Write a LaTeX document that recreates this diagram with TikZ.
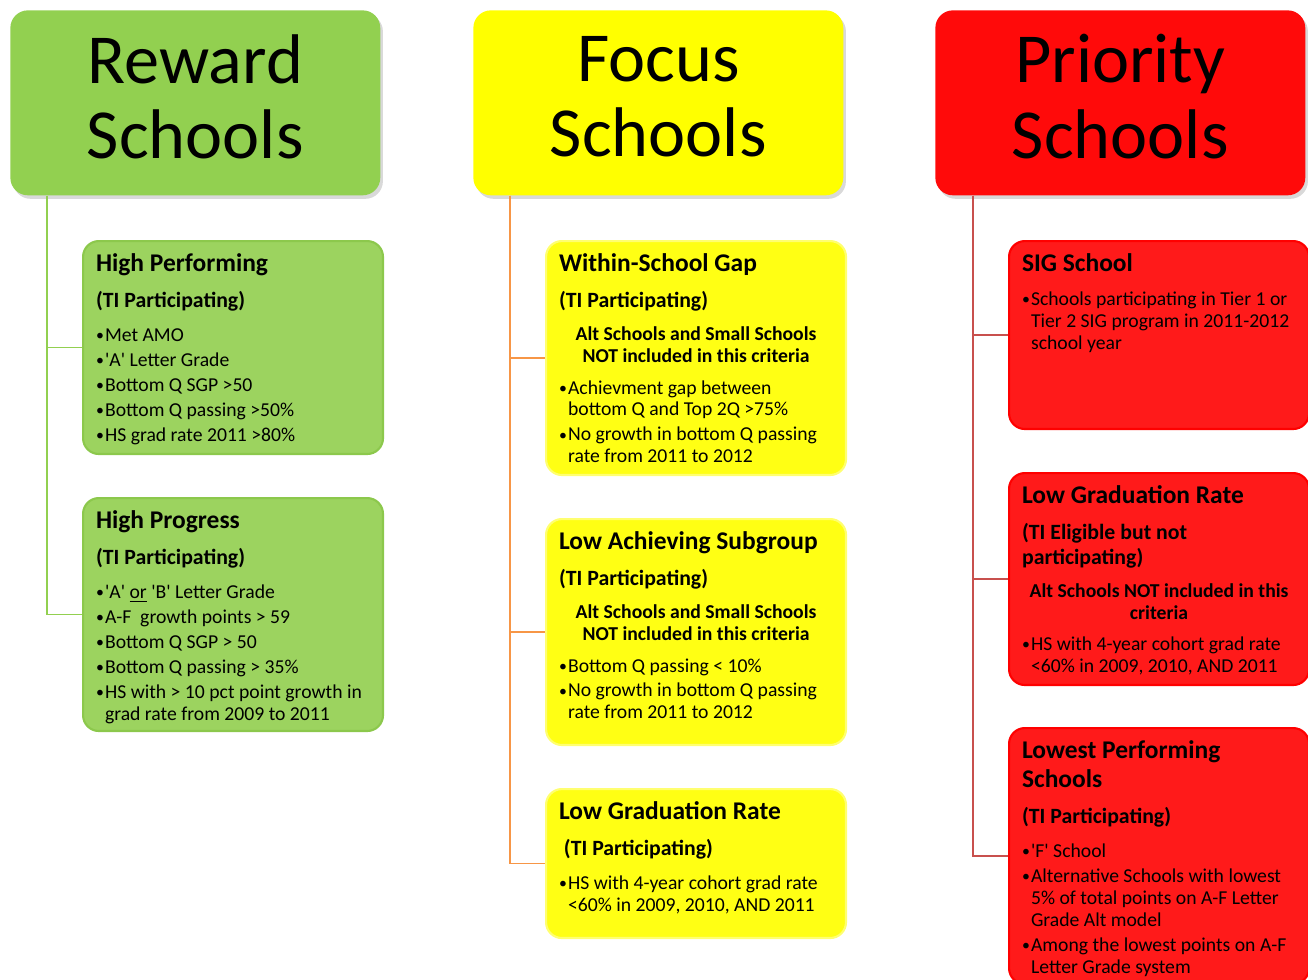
\documentclass[tikz,border=0pt]{standalone}
\usepackage{fontspec}
\setmainfont{Carlito}
\usetikzlibrary{calc,shadows}

\definecolor{rwfill}{HTML}{92D050}
\definecolor{rwsub}{HTML}{9CD35F}
\definecolor{rwedge}{HTML}{8CC84C}
\definecolor{fcfill}{HTML}{FFFF00}
\definecolor{fcsub}{HTML}{FFFF14}
\definecolor{fcedge}{HTML}{FFFF70}
\definecolor{prfill}{HTML}{FF0A0A}
\definecolor{prsub}{HTML}{FF1A1A}
\definecolor{predge}{HTML}{FF0000}
\definecolor{rwline}{HTML}{92D050}
\definecolor{fcline}{HTML}{F79646}
\definecolor{prline}{HTML}{C8504D}

\def\q{\textquotesingle}
\def\hd#1{{\fontsize{14.5}{16.5}\selectfont\bfseries #1\par}}
\def\ti#1{\vspace{6.5pt}{\fontsize{12.4}{14}\selectfont\bfseries #1\par}\vspace{4.8pt}}
\def\nt#1{\vspace{1.5pt}{\fontsize{11.2}{12.5}\selectfont\bfseries\centering #1\par}\vspace{3.5pt}}
\def\itm#1{\vspace{1.7pt}{\fontsize{11.2}{12.5}\selectfont\hangindent=0.18cm\hangafter=1\noindent
	\makebox[0.18cm][l]{\raisebox{0.4pt}{\fontsize{9}{9}\selectfont\textbullet}}#1\par}}
\def\crit#1#2{\parbox[c][#1][t]{5.48cm}{\raggedright #2}}

\begin{document}
\begin{tikzpicture}[x=0.02cm, y=-0.02cm,
		headbox/.style={anchor=north west, rounded corners=10pt, minimum width=7.4cm, minimum height=3.7cm,
			inner sep=0pt, drop shadow={opacity=0.3, shadow xshift=1.5pt, shadow yshift=-2pt}},
		headtext/.style={align=center, inner sep=0pt, font=\fontsize{40}{43}\selectfont},
		critbox/.style={anchor=north west, rounded corners=9pt, inner sep=0.26cm, line width=1.2pt},
		stem/.style={line width=0.9pt}]
			%%%%% START %%%%%
			
			\useasboundingbox (0,0) rectangle (1308,980);
			\clip (0,0) rectangle (1308,980);
			
			% column heads
			\node[headbox, fill=rwfill] (rw) at (10,10) {};
			\node[headbox, fill=fcfill] (fc) at (473,10) {};
			\node[headbox, fill=prfill] (pr) at (935,10) {};
			\node[headtext] (rw-t) at ($(rw.center)+(0,-6)$) {Reward\\Schools};
			\node[headtext] (fc-t) at ($(fc.center)+(0,-6)$) {Focus\\Schools};
			\node[headtext] (pr-t) at ($(pr.center)+(0,-6)$) {Priority\\Schools};
			
			% reward column
			\node[critbox, fill=rwsub, draw=rwedge] (hperf) at (82,240) {\crit{3.74cm}{%
				\hd{High Performing}
				\ti{(TI Participating)}
				\itm{Met AMO}
				\itm{\q A\q{} Letter Grade}
				\itm{Bottom Q SGP >50}
				\itm{Bottom Q passing >50\%}
				\itm{HS grad rate 2011 >80\%}}};
			\node[critbox, fill=rwsub, draw=rwedge] (hprog) at (82,497) {\crit{4.14cm}{%
				\hd{High Progress}
				\ti{(TI Participating)}
				\itm{\q A\q{} \underline{or} \q B\q{} Letter Grade}
				\itm{A-F\ \ growth points > 59}
				\itm{Bottom Q SGP > 50}
				\itm{Bottom Q passing > 35\%}
				\itm{HS with > 10 pct point growth in\newline grad rate from 2009 to 2011}}};
			
			% focus column
			\node[critbox, fill=fcsub, draw=fcedge] (wsg) at (545,240) {\crit{4.16cm}{%
				\hd{Within-School Gap}
				\ti{(TI Participating)}
				\nt{Alt Schools and Small Schools\\NOT included in this criteria}
				\itm{Achievment gap between\newline bottom Q and Top 2Q >75\%}
				\itm{No growth in bottom Q passing\newline rate from 2011 to 2012}}};
			\node[critbox, fill=fcsub, draw=fcedge] (las) at (545,518) {\crit{4.0cm}{%
				\hd{Low Achieving Subgroup}
				\ti{(TI Participating)}
				\nt{Alt Schools and Small Schools\\NOT included in this criteria}
				\itm{Bottom Q passing < 10\%}
				\itm{No growth in bottom Q passing\newline rate from 2011 to 2012}}};
			\node[critbox, fill=fcsub, draw=fcedge] (lgrf) at (545,788) {\crit{2.46cm}{%
				\hd{Low Graduation Rate}
				\ti{\ (TI Participating)}
				\itm{HS with 4-year cohort grad rate\newline <60\% in 2009, 2010, AND 2011}}};
			
			% priority column
			\node[critbox, fill=prsub, draw=predge] (sig) at (1008,240) {\crit{3.24cm}{%
				\hd{SIG School}
				\vspace{5pt}
				\itm{Schools participating in Tier 1 or\newline Tier 2 SIG program in 2011-2012\newline school year}}};
			\node[critbox, fill=prsub, draw=predge] (lgrp) at (1008,472) {\crit{3.72cm}{%
				\hd{Low Graduation Rate}
				\ti{(TI Eligible but not\\participating)}
				\nt{Alt Schools NOT included in this\\criteria}
				\itm{HS with 4-year cohort grad rate\newline <60\% in 2009, 2010, AND 2011}}};
			\node[critbox, fill=prsub, draw=predge] (lps) at (1008,727) {\crit{4.6cm}{%
				\hd{Lowest Performing\\Schools}
				\ti{(TI Participating)}
				\itm{\q F\q{} School}
				\itm{Alternative Schools with lowest\newline 5\% of total points on A-F Letter\newline Grade Alt model}
				\itm{Among the lowest points on A-F\newline Letter Grade system}}};
			
			% connectors
			\coordinate (rw-stem) at ($(rw.south west)+(37,0)$);
			\coordinate (fc-stem) at ($(fc.south west)+(37,0)$);
			\coordinate (pr-stem) at ($(pr.south west)+(38,0)$);
			
			\draw[stem, rwline] (rw-stem) |- (hperf.west);
			\draw[stem, rwline] (rw-stem) |- (hprog.west);
			
			\draw[stem, fcline] (fc-stem) |- (wsg.west);
			\draw[stem, fcline] (fc-stem) |- (las.west);
			\draw[stem, fcline] (fc-stem) |- (lgrf.west);
			
			\draw[stem, prline] (pr-stem) |- (sig.west);
			\draw[stem, prline] (pr-stem) |- (lgrp.west);
			\draw[stem, prline] (pr-stem) |- (lps.west);
			
			%%%%% END %%%%%
		\end{tikzpicture}
\end{document}
